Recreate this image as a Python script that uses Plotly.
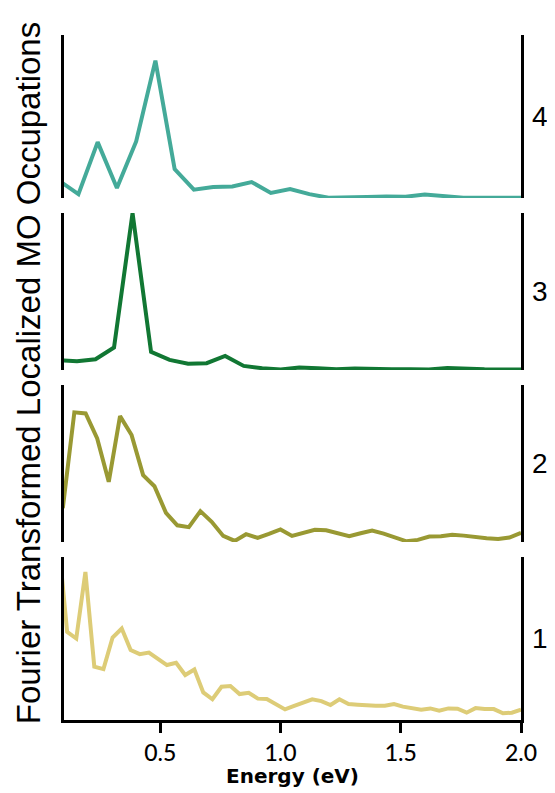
import plotly.graph_objects as go

# ---- data (arbitrary units, each panel normalised to its own range) ----
x4 = [0.08, 0.16, 0.24, 0.32, 0.40, 0.48, 0.56, 0.64, 0.72, 0.80, 0.88, 0.96, 1.04,
      1.12, 1.20, 1.28, 1.36, 1.44, 1.52, 1.60, 1.68, 1.76, 1.84, 1.92, 2.00]
y4 = [0.106, 0.024, 0.343, 0.061, 0.347, 0.843, 0.178, 0.051, 0.067, 0.071, 0.098,
      0.031, 0.055, 0.024, 0.002, 0.002, 0.006, 0.010, 0.008, 0.022, 0.014, 0.002,
      0.001, 0.002, 0.002]

x3 = [0.077, 0.154, 0.231, 0.308, 0.385, 0.462, 0.539, 0.616, 0.693, 0.770, 0.847,
      0.924, 1.001, 1.078, 1.155, 1.232, 1.309, 1.386, 1.463, 1.540, 1.617, 1.694,
      1.771, 1.848, 1.925, 2.000]
y3 = [0.062, 0.055, 0.068, 0.143, 1.000, 0.115, 0.064, 0.040, 0.043, 0.089, 0.026,
      0.011, 0.003, 0.015, 0.011, 0.004, 0.009, 0.005, 0.005, 0.005, 0.003, 0.013,
      0.006, 0.004, 0.003, 0.003]

x2 = [0.095, 0.143, 0.190, 0.238, 0.286, 0.333, 0.381, 0.429, 0.476, 0.524, 0.571,
      0.619, 0.667, 0.714, 0.762, 0.810, 0.857, 0.905, 0.952, 1.000, 1.048, 1.095,
      1.143, 1.190, 1.238, 1.286, 1.333, 1.381, 1.429, 1.476, 1.524, 1.571, 1.619,
      1.667, 1.714, 1.762, 1.810, 1.857, 1.905, 1.952, 2.000]
y2 = [0.215, 0.826, 0.819, 0.660, 0.383, 0.802, 0.681, 0.426, 0.355, 0.185, 0.106,
      0.094, 0.196, 0.128, 0.038, 0.006, 0.049, 0.026, 0.051, 0.079, 0.038, 0.055,
      0.077, 0.074, 0.053, 0.036, 0.055, 0.072, 0.053, 0.032, 0.004, 0.013, 0.034,
      0.036, 0.045, 0.040, 0.030, 0.023, 0.019, 0.028, 0.057]

x1 = [0.075, 0.113, 0.151, 0.189, 0.226, 0.264, 0.302, 0.340, 0.377, 0.415, 0.453,
      0.491, 0.528, 0.566, 0.604, 0.642, 0.679, 0.717, 0.755, 0.792, 0.830, 0.868,
      0.906, 0.943, 0.981, 1.019, 1.057, 1.094, 1.132, 1.170, 1.208, 1.245, 1.283,
      1.321, 1.358, 1.396, 1.434, 1.472, 1.509, 1.547, 1.585, 1.623, 1.660, 1.698,
      1.736, 1.774, 1.811, 1.849, 1.887, 1.925, 1.962, 2.000]
y1 = [1.130, 0.541, 0.500, 0.908, 0.327, 0.312, 0.506, 0.561, 0.429, 0.404, 0.414,
      0.373, 0.337, 0.351, 0.276, 0.310, 0.169, 0.127, 0.204, 0.208, 0.159, 0.167,
      0.131, 0.129, 0.098, 0.065, 0.086, 0.104, 0.127, 0.116, 0.092, 0.127, 0.098,
      0.094, 0.088, 0.088, 0.088, 0.098, 0.082, 0.071, 0.063, 0.071, 0.057, 0.071,
      0.069, 0.045, 0.073, 0.067, 0.067, 0.041, 0.045, 0.063]

panel_labels = ["1", "2", "3", "4"]
colors = ["#DDCC77", "#999933", "#117733", "#44AA99"]
x_ticks = [0.5, 1.0, 1.5, 2.0]
x_tick_text = ["0.5", "1.0", "1.5", "2.0"]

series = [(x1, y1), (x2, y2), (x3, y3), (x4, y4)]
domains = [[0.0, 0.238], [0.260, 0.489], [0.511, 0.740], [0.762, 1.0]]

fig = go.Figure()
for i, ((xs, ys), c) in enumerate(zip(series, colors)):
    n = "" if i == 0 else str(i + 1)
    fig.add_trace(go.Scatter(x=xs, y=ys, mode="lines",
                             line=dict(color=c, width=4),
                             xaxis="x" + n, yaxis="y" + n, showlegend=False))

# page body has an 8px margin: compensate so the plot area lands at 64..521 x 35..720
layout = dict(
    width=547, height=785,
    margin=dict(l=56, r=34, t=27, b=73, autoexpand=False),
    paper_bgcolor="white", plot_bgcolor="white",
    showlegend=False,
)
for i in range(4):
    n = "" if i == 0 else str(i + 1)
    layout["yaxis" + n] = dict(
        domain=domains[i], range=[0, 1], anchor="x" + n,
        showline=True, linecolor="black", linewidth=3, mirror=True,
        showticklabels=False, ticks="", showgrid=False, zeroline=False,
        fixedrange=True, automargin=False,
    )
    if i == 0:
        layout["xaxis"] = dict(
            range=[0.1, 2.0], anchor="y", domain=[0, 1],
            showline=True, linecolor="black", linewidth=3,
            ticks="outside", ticklen=10, tickwidth=3, tickcolor="black",
            tickvals=x_ticks, ticktext=x_tick_text,
            tickfont=dict(family="Lato", size=23, color="black", weight=500),
            showgrid=False, zeroline=False, automargin=False,
        )
    else:
        layout["xaxis" + n] = dict(
            range=[0.1, 2.0], anchor="y" + n, domain=[0, 1], matches="x",
            visible=False, showgrid=False, zeroline=False,
        )

ann = []
for i, lab in enumerate(panel_labels):
    ann.append(dict(text=lab, xref="paper", yref="paper", x=1.0,
                    y=(domains[i][0] + domains[i][1]) / 2,
                    xanchor="left", yanchor="middle", xshift=9, showarrow=False,
                    font=dict(family="Liberation Sans", size=28, color="black")))
ann.append(dict(text="Fourier Transformed Localized MO Occupations",
                xref="paper", yref="paper", x=0, y=0.512, xanchor="center",
                yanchor="middle", xshift=-36, yshift=-4, textangle=-90, showarrow=False,
                font=dict(family="Liberation Sans", size=33, color="black")))
ann.append(dict(text="Energy (eV)", xref="paper", yref="paper", x=0.5, y=0,
                xanchor="center", yanchor="middle", yshift=-56, showarrow=False,
                font=dict(family="DejaVu Sans", size=20, color="black", weight="bold")))
layout["annotations"] = ann

fig.update_layout(**layout)
fig.write_html("out.html")
